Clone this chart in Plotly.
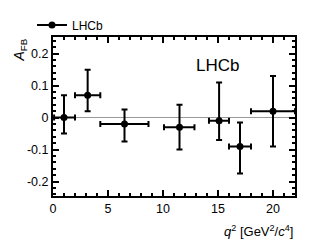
import plotly.graph_objects as go

# data
q2_center = [1.0, 3.15, 6.5, 11.5, 15.1, 17.0, 20.0]
q2_low = [0.1, 2.0, 4.3, 10.09, 14.18, 16.0, 18.0]
q2_high = [2.0, 4.3, 8.68, 12.86, 16.0, 18.0, 22.0]
afb = [0.0, 0.07, -0.02, -0.03, -0.01, -0.09, 0.02]
afb_err_up = [0.07, 0.08, 0.045, 0.07, 0.12, 0.075, 0.11]
afb_err_down = [0.05, 0.05, 0.055, 0.07, 0.06, 0.085, 0.11]

ex_plus = [h - c for h, c in zip(q2_high, q2_center)]
ex_minus = [c - l for l, c in zip(q2_low, q2_center)]

font = "Liberation Sans, Arial, Helvetica, sans-serif"

# page body has an 8px default margin; size the figure to fit the window
W, H = 303, 239

fig = go.Figure()
fig.add_trace(go.Scatter(
    x=q2_center, y=afb, mode="markers",
    marker=dict(color="black", size=7),
    error_x=dict(type="data", array=ex_plus, arrayminus=ex_minus, symmetric=False,
                 color="black", thickness=2, width=3),
    error_y=dict(type="data", array=afb_err_up, arrayminus=afb_err_down, symmetric=False,
                 color="black", thickness=2, width=3),
    showlegend=False, cliponaxis=True,
))
fig.add_trace(go.Scatter(
    x=[None], y=[None], mode="lines+markers", name="LHCb",
    line=dict(color="black", width=2), marker=dict(color="black", size=7),
))

fig.update_layout(
    width=W, height=H,
    margin=dict(l=45, r=16, t=29, b=51, autoexpand=False),
    plot_bgcolor="white", paper_bgcolor="white",
    font=dict(family=font, size=12, color="black"),
    showlegend=True,
    legend=dict(xref="container", yref="container", x=24 / W, y=1 - 17 / H,
                xanchor="left", yanchor="middle",
                bgcolor="rgba(0,0,0,0)", itemwidth=30, font=dict(size=12),
                borderwidth=0, tracegroupgap=0),
    xaxis=dict(range=[0, 22], showline=True, linecolor="black", linewidth=2, mirror="ticks",
               ticks="inside", ticklen=6, tickwidth=1.5, tickcolor="black",
               dtick=5, tick0=0, showgrid=False, zeroline=False,
               minor=dict(ticks="inside", ticklen=3, dtick=1, tickcolor="black", tickwidth=1.5),
               tickfont=dict(size=12.5)),
    yaxis=dict(range=[-0.245, 0.252], showline=True, linecolor="black", linewidth=2, mirror="ticks",
               ticks="inside", ticklen=6, tickwidth=1.5, tickcolor="black",
               tickvals=[-0.2, -0.1, 0, 0.1, 0.2], ticktext=["-0.2", "-0.1", "0", "0.1", "0.2"],
               showgrid=False, zeroline=True, zerolinecolor="#999999", zerolinewidth=1,
               minor=dict(ticks="inside", ticklen=3, dtick=0.02, tick0=0, tickcolor="black", tickwidth=1.5),
               tickfont=dict(size=12.5)),
    annotations=[
        dict(text="LHCb", x=0.68, y=0.82, xref="paper", yref="paper", showarrow=False,
             font=dict(size=17), xanchor="center", yanchor="middle"),
        dict(text="<i>q</i><sup>2</sup> [GeV<sup>2</sup>/<i>c</i><sup>4</sup>]", x=1.0, y=-0.16,
             xref="paper", yref="paper", showarrow=False, xanchor="right", yanchor="top",
             font=dict(size=13)),
        dict(text="<i>A</i><sub>FB</sub>", x=-0.14, y=1.0, xref="paper", yref="paper",
             showarrow=False, textangle=-90, xanchor="center", yanchor="top", font=dict(size=14)),
    ],
)

fig.write_html("out.html")
